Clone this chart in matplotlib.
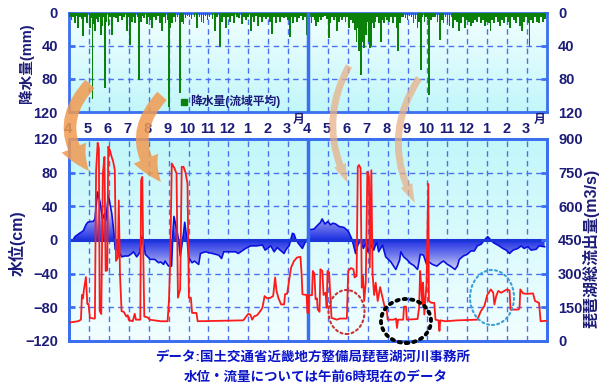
import numpy as np
import matplotlib
matplotlib.use('Agg')
import matplotlib.pyplot as plt
import matplotlib.patches as mpatches
import matplotlib.transforms as mtransforms
from matplotlib.colors import LinearSegmentedColormap

plt.rcParams['font.family'] = ['Liberation Sans', 'Noto Sans CJK JP']
plt.rcParams['font.weight'] = 'bold'

# x axis unit: months counted from April 1 of the first year (0..24)
MONTH_LABELS = ['4', '5', '6', '7', '8', '9', '10', '11', '12', '1', '2', '3',
                '4', '5', '6', '7', '8', '9', '10', '11', '12', '1', '2', '3']

# daily basin-average rainfall (mm)
rain_month = [0.05, 0.13, 0.22, 0.3, 0.38, 0.47, 0.55, 0.65, 0.72, 0.8, 0.9, 1.06, 1.12, 1.18, 1.24, 1.3,
              1.36, 1.45, 1.52, 1.6, 1.68, 1.75, 1.81, 1.88, 1.98, 2.06, 2.15, 2.25, 2.35, 2.45, 2.55,
              2.65, 2.75, 2.9, 3.0, 3.07, 3.15, 3.25, 3.33, 3.45, 3.53, 3.6, 3.7, 3.78, 3.9, 4.0, 4.08,
              4.17, 4.28, 4.37, 4.45, 4.55, 4.65, 4.75, 4.85, 4.95, 5.04, 5.1, 5.18, 5.26, 5.35, 5.45,
              5.59, 5.66, 5.75, 5.85, 5.95, 6.05, 6.15, 6.3, 6.43, 6.55, 6.65, 6.75, 6.85, 6.95, 7.05,
              7.2, 7.35, 7.45, 7.6, 7.7, 7.8, 7.9, 8.0, 8.1, 8.2, 8.3, 8.42, 8.55, 8.7, 8.8, 8.9, 9.0,
              9.12, 9.22, 9.3, 9.4, 9.5, 9.6, 9.7, 9.8, 9.9, 10.0, 10.1, 10.2, 10.3, 10.4, 10.5, 10.6,
              10.7, 10.8, 10.9, 11.0, 11.08, 11.15, 11.25, 11.35, 11.45, 11.55, 11.65, 11.75, 11.85, 11.92,
              12.02, 12.1, 12.18, 12.26, 12.33, 12.42, 12.5, 12.58, 12.66, 12.75, 12.85, 12.95, 13.05,
              13.12, 13.2, 13.3, 13.38, 13.47, 13.55, 13.65, 13.72, 13.8, 13.88, 13.95, 14.05, 14.15,
              14.25, 14.35, 14.44, 14.5, 14.56, 14.62, 14.68, 14.74, 14.8, 14.86, 14.92, 14.98, 15.05,
              15.11, 15.17, 15.23, 15.3, 15.38, 15.46, 15.55, 15.65, 15.72, 15.8, 15.88, 15.95, 16.05,
              16.15, 16.25, 16.35, 16.45, 16.52, 16.6, 16.7, 16.8, 16.9, 17.0, 17.1, 17.2, 17.3, 17.4,
              17.5, 17.58, 17.67, 17.75, 17.85, 17.92, 18.0, 18.09, 18.18, 18.28, 18.38, 18.5, 18.64,
              18.72, 18.8, 18.9, 19.0, 19.1, 19.2, 19.3, 19.4, 19.5, 19.6, 19.7, 19.8, 19.9, 20.0, 20.1,
              20.2, 20.3, 20.4, 20.5, 20.6, 20.7, 20.8, 20.9, 21.0, 21.1, 21.16, 21.25, 21.35, 21.45,
              21.55, 21.65, 21.75, 21.85, 21.95, 22.05, 22.15, 22.25, 22.35, 22.45, 22.55, 22.65, 22.75,
              22.85, 22.95, 23.05, 23.12, 23.2, 23.3, 23.4, 23.5, 23.6, 23.7, 23.8, 23.9]
rain_mm = [6, 9, 5, 13, 4, 19, 6, 8, 28, 5, 13, 19, 7, 104, 14, 22,
           8, 12, 5, 27, 16, 6, 91, 11, 16, 6, 27, 5, 7, 11, 4,
           9, 6, 22, 5, 39, 11, 6, 13, 5, 81, 11, 4, 7, 14, 5, 9,
           19, 6, 9, 4, 13, 22, 6, 13, 9, 114, 19, 13, 6, 11, 5,
           97, 11, 14, 7, 4, 6, 8, 5, 19, 6, 11, 13, 4, 9, 5,
           8, 22, 6, 42, 11, 5, 19, 6, 11, 4, 13, 5, 7, 14, 5, 9, 6,
           22, 5, 11, 4, 16, 6, 11, 5, 8, 5, 11, 26, 6, 13, 5, 11,
           5, 7, 6, 9, 29, 6, 13, 5, 11, 7, 4, 9, 6, 27,
           31, 6, 13, 5, 9, 16, 11, 5, 9, 6, 4, 8, 31,
           13, 5, 9, 6, 22, 11, 5, 9, 6, 11, 5, 19, 9,
           13, 21, 35, 19, 47, 27, 75, 35, 43, 19, 27, 11, 35,
           43, 41, 13, 19, 11, 6, 13, 35, 9, 13, 5, 9, 11,
           6, 13, 5, 19, 47, 13, 6, 5, 7, 9, 4, 6, 13, 8,
           19, 11, 69, 6, 11, 5, 8, 99, 9, 6, 5, 11, 33,
           9, 13, 6, 13, 16, 6, 19, 9, 11, 22, 13, 6, 19, 9, 11,
           16, 13, 9, 11, 6, 13, 9, 16, 11, 13, 22, 9, 13, 6,
           11, 16, 9, 13, 6, 11, 19, 6, 9, 13, 5, 16, 22,
           11, 6, 13, 41, 9, 13, 6, 11, 13, 6, 11, 8]

# lake water level at 6 a.m. (cm)
level_month = [0.2, 0.3, 0.47, 0.6, 0.72, 0.85, 0.94, 1.1, 1.22, 1.3, 1.43, 1.5, 1.56, 1.68, 1.78, 1.85,
               1.92, 1.98, 2.08, 2.15, 2.25, 2.32, 2.45, 2.65, 2.8, 2.97, 3.1, 3.24, 3.4, 3.55, 3.68,
               3.75, 3.83, 4.08, 4.3, 4.5, 4.6, 4.75, 4.82, 5.0, 5.15, 5.22, 5.27, 5.42, 5.5, 5.59,
               5.65, 5.75, 5.81, 5.93, 6.01, 6.18, 6.3, 6.51, 6.6, 6.85, 7.2, 7.52, 7.66, 7.77, 8.1,
               8.36, 8.5, 8.87, 9.12, 9.4, 9.71, 9.85, 10.13, 10.3, 10.45, 10.6, 10.8, 10.9, 11.05,
               11.22, 11.3, 11.4, 11.55, 11.72, 11.85, 11.97,
               12.02, 12.3, 12.46, 12.63, 12.71, 12.85, 13.0, 13.13, 13.25, 13.39, 13.56, 13.8, 13.95,
               14.05, 14.22, 14.39, 14.5, 14.64, 14.78, 14.9, 15.0, 15.15, 15.3, 15.45, 15.55, 15.74,
               15.9, 16.16, 16.41, 16.6, 16.66, 16.8, 17.0, 17.15, 17.3, 17.5, 17.64, 17.8, 17.97,
               18.0, 18.25, 18.47, 18.67, 18.8, 19.0, 19.15, 19.38, 19.5, 19.6, 19.8, 20.0, 20.18,
               20.35, 20.5, 20.69, 20.86, 21.02, 21.1, 21.3, 21.45, 21.6, 21.78, 21.95, 22.12, 22.3,
               22.54, 22.7, 22.85, 23.04, 23.2, 23.46, 23.6, 23.88]
level_cm = [0, 4, 7, 9, 11, 18, 21, 22, 22, 25, 57, 50, 45, 25, 31, 23,
            40, 53, 40, 31, 10, -11, -12, -20, -19, -19, -17, -14, -20, -15, 5,
            -5, -17, -23, -23, -27, -26, -29, -25, -31, -31, 10, 28, 11, 0, -19,
            -9, 8, 21, 0, -21, -27, -25, -29, -16, -14, -16, -18, -22, -14, -14,
            -14, -16, -10, -7, -7, -6, -12, -7, -14, -9, -12, -16, -11, -7,
            8, 7, 0, -5, -10, -3, -1,
            12, 13, 17, 21, 25, 19, 22, 18, 20, 19, 16, 15, 12,
            9, 0, -16, -6, 0, -10, -4, -14, -6, -12, -2, -14, -6,
            -20, -26, -35, -24, -14, -20, -24, -28, -30, -35, -17, -18, -30,
            -25, -29, -31, -27, -25, -29, -31, -35, -31, -23, -19, -17, -13,
            -13, -7, -5, 0, 4, 2, -3, -5, -7, -10, -12, -16, -12,
            -10, -7, -10, -8, -12, -11, -7, -8]

# total outflow of Lake Biwa (m3/s)
flow_month = [0.0, 0.45, 0.6, 0.65, 0.7, 0.75, 0.85, 0.92, 0.98, 1.05, 1.25, 1.3, 1.36, 1.44, 1.5, 1.54,
              1.62, 1.7, 1.78, 1.84, 1.92, 1.97, 2.05, 2.14, 2.22, 2.3, 2.36, 2.45, 2.5, 2.56, 2.64,
              2.75, 2.88, 2.95, 3.0, 3.2, 3.3, 3.36, 3.58, 3.62, 3.68, 3.72, 3.78, 3.95, 4.05, 4.6,
              4.95, 5.02, 5.08, 5.16, 5.3, 5.4, 5.47, 5.58, 5.66, 5.75, 5.85, 5.95, 6.02, 6.12, 6.18,
              6.4, 6.46, 8.75, 9.0, 9.1, 9.2, 9.3, 9.45, 9.62, 9.71, 9.82, 9.95, 10.1, 10.25, 10.35,
              10.42, 10.52, 10.65, 10.8, 10.85, 10.95, 11.05, 11.15, 11.3, 11.45, 11.62, 11.68, 11.72,
              11.93, 11.97, 12.0,
              12.02, 12.2, 12.24, 12.32, 12.38, 12.45, 12.49, 12.58, 12.62, 12.72, 12.78, 12.88, 12.94,
              12.98, 13.06, 13.12, 13.18, 13.45, 13.6, 13.95, 14.02, 14.15, 14.28, 14.34, 14.44, 14.5,
              14.56, 14.64, 14.7, 14.76, 14.82, 14.9, 14.98, 15.06, 15.1, 15.18, 15.24, 15.32, 15.4,
              15.5, 15.62, 15.78, 15.86, 15.95, 16.0, 16.3, 16.42, 16.47, 16.52, 16.78, 16.82, 16.92,
              16.96, 17.5, 17.58, 17.63, 17.68, 17.74, 17.78, 17.84, 17.95, 18.04, 18.07, 18.2, 18.34,
              18.4, 18.55, 18.6, 18.64, 18.9, 19.5, 20.5, 20.68, 20.85, 21.0, 21.18, 21.3, 21.36,
              21.45, 21.55, 21.7, 21.85, 22.0, 22.12, 22.17, 22.55, 22.62, 22.66, 22.8, 23.0, 23.3,
              23.4, 23.6, 23.68, 23.95]
flow_m3s = [82, 88, 95, 205, 190, 230, 285, 165, 165, 103, 100, 100, 760, 883, 858, 135,
            120, 745, 820, 312, 315, 866, 851, 821, 799, 761, 357, 372, 626, 297, 133,
            130, 109, 115, 94, 88, 121, 95, 95, 716, 731, 434, 109, 105, 95, 88,
            88, 183, 348, 791, 769, 746, 193, 230, 776, 776, 750, 701, 193, 193, 125,
            125, 88, 92, 121, 118, 95, 110, 115, 135, 148, 200, 190, 192, 200, 283,
            223, 190, 163, 163, 209, 210, 267, 327, 357, 372, 375, 297, 208,
            205, 125, 125,
            204, 204, 312, 300, 186, 190, 140, 130, 320, 312, 205, 215, 148,
            312, 305, 205, 103, 95, 100, 100, 312, 325, 320, 283, 290, 776,
            784, 770, 238, 290, 178, 260, 754, 730, 327, 761, 300, 205, 260,
            178, 240, 178, 148, 140, 95, 95, 100, 58, 95, 95, 153, 153,
            95, 98, 150, 312, 250, 163, 260, 118, 253, 700, 178, 170, 170,
            95, 92, 45, 92, 88, 92, 95, 133, 155, 205, 230, 215, 163,
            200, 223, 215, 223, 230, 225, 140, 140, 145, 230, 212, 210, 212,
            178, 170, 88, 90]

NAVY = '#1c1c78'
FRAME = '#3a6ff0'
GRID = '#4a72f0'
W, H = 601, 388


def fx(x):
    return x / W


def fy(y):
    return 1 - y / H


fig = plt.figure(figsize=(W / 100, H / 100), dpi=100)
ax_r = fig.add_axes([fx(69), fy(112), 478 / W, 99.5 / H])
ax_b = fig.add_axes([fx(69), fy(341), 478 / W, 202 / H])
ax_f = ax_b.twinx()

sky = LinearSegmentedColormap.from_list('sky', ['#c2f7fa', '#f2feff'])
for ax, (y0, y1) in ((ax_r, (120, 0)), (ax_b, (-120, 120))):
    ax.imshow(np.linspace(0, 1, 100)[:, None], extent=[0, 24, y0, y1], cmap=sky,
              aspect='auto', zorder=0, origin='upper' if ax is ax_b else 'lower')

# ---- rainfall panel
ax_r.bar(rain_month, rain_mm, width=0.09, color='#0b800b', zorder=3, align='center')
ax_r.set_xlim(0, 24)
ax_r.set_ylim(120, 0)
ax_r.set_yticks([0, 40, 80, 120])
for yv in (40, 80):
    ax_r.axhline(yv, color=GRID, lw=1, ls=(0, (4, 3)), zorder=1)

# ---- level / outflow panel
ax_b.set_xlim(0, 24)
ax_b.set_ylim(-120, 120)
ax_b.set_yticks([-120, -80, -40, 0, 40, 80, 120])
for yv in (-80, -40, 40, 80):
    ax_b.axhline(yv, color=GRID, lw=1, ls=(0, (4, 3)), zorder=1)

for ax in (ax_r, ax_b):
    for m in range(1, 24):
        if m != 12:
            ax.axvline(m, color=GRID, lw=1, ls=(0, (4, 3)), zorder=1)
    ax.axvline(12, color=FRAME, lw=2.5, zorder=6)
    ax.set_xticks([])
    for s in ax.spines.values():
        s.set_color(FRAME)
        s.set_linewidth(2)

poly = ax_b.fill_between(level_month, level_cm, 0, facecolor='none', edgecolor='none')
yy = np.linspace(60, -40, 200)
blues = LinearSegmentedColormap.from_list('lv', ['#1e30e4', '#7880ec', '#e8eafd'])
im = ax_b.imshow(np.clip(np.abs(yy) / 38, 0, 1)[:, None], extent=[0, 24, -40, 60],
                 cmap=blues, vmin=0, vmax=1, aspect='auto', zorder=2)
im.set_clip_path(poly.get_paths()[0], transform=ax_b.transData)
ax_b.plot(level_month, level_cm, color='#0a10e0', lw=1.2, zorder=4)
ax_b.axhline(0, color='#1a35d8', lw=2.2, zorder=4)
ax_b.set_xlim(0, 24)
ax_b.set_ylim(-120, 120)

ax_f.plot(flow_month, flow_m3s, color='#ff1a1a', lw=1.3, zorder=5)
ax_f.set_ylim(0, 900)
ax_f.set_yticks([0, 150, 300, 450, 600, 750, 900])
for s in ax_f.spines.values():
    s.set_color(FRAME)
    s.set_linewidth(2)

tick_kw = dict(direction='in', length=4, width=2, color=FRAME, labelcolor=NAVY, labelsize=10.5)
ax_r.tick_params(axis='y', left=True, right=True, labelleft=True, labelright=True, pad=8, **tick_kw)
ax_b.tick_params(axis='y', pad=8, **tick_kw)
ax_f.tick_params(axis='y', pad=8, **tick_kw)
for lab in ax_r.yaxis.get_ticklabels(which='both') + ax_b.get_yticklabels() + ax_f.get_yticklabels():
    lab.set_fontweight('bold')
for t in ax_r.yaxis.get_major_ticks():
    t.label2.set_fontweight('bold')

# month labels between the panels
lab_tr = mtransforms.blended_transform_factory(ax_b.transData, ax_b.transAxes)
for m, lab in enumerate(MONTH_LABELS):
    ax_b.text(m - 0.05, (341 - 129) / 202, lab, transform=lab_tr, ha='center', va='center',
              fontsize=10.5, color=NAVY, fontweight='bold')
for m in (11.55, 23.65):
    ax_b.text(m, (341 - 120) / 202, '月', transform=lab_tr, ha='center', va='center',
              fontsize=8.5, color=NAVY, fontweight='bold')

# axis titles
fig.text(fx(26), fy(63), '降水量(mm)', rotation=90, ha='center', va='center',
         fontsize=10.5, color=NAVY, fontweight='bold')
fig.text(fx(17), fy(243), '水位(cm)', rotation=90, ha='center', va='center',
         fontsize=11.5, color=NAVY, fontweight='bold')
fig.text(fx(591), fy(248), '琵琶湖総流出量(m3/s)', rotation=90, ha='center', va='center',
         fontsize=11.5, color=NAVY, fontweight='bold')

# legend of the rainfall panel
fig.add_artist(mpatches.Rectangle((fx(181), fy(105)), 6 / W, 6 / H, transform=fig.transFigure,
                                  color='#0b800b', zorder=7))
fig.text(fx(190), fy(101.5), '降水量(流域平均)', ha='left', va='center',
         fontsize=8.5, color=NAVY, fontweight='bold', zorder=7)

# source notes
fig.text(fx(313), fy(357), 'データ:国土交通省近畿地方整備局琵琶湖河川事務所', ha='center', va='center',
         fontsize=9.7, color='#0a14c8', fontweight='bold')
fig.text(fx(316), fy(377), '水位・流量については午前6時現在のデータ', ha='center', va='center',
         fontsize=9.7, color='#0a14c8', fontweight='bold')

# curved arrows: rain events -> outflow peaks
arrows = [((90, 84), (89, 171), 0.45, '#f09a50', 0.85, (20, 19, 9)),
          ((162, 96), (161, 182), 0.45, '#f09a50', 0.85, (20, 19, 9)),
          ((349, 66), (348, 183), 0.27, '#e8b088', 0.75, (14, 9, 5)),
          ((419, 78), (415, 203), 0.30, '#e8b088', 0.75, (14, 9, 5))]
for (a, b, rad, col, alp, (hl, hw, tw)) in arrows:
    fig.add_artist(mpatches.FancyArrowPatch(
        (fx(a[0]), fy(a[1])), (fx(b[0]), fy(b[1])), transform=fig.transFigure,
        connectionstyle=f'arc3,rad={rad}',
        arrowstyle=mpatches.ArrowStyle.Simple(head_length=hl, head_width=hw, tail_width=tw),
        mutation_scale=1, shrinkA=0, shrinkB=0, color=col, alpha=alp, lw=0, zorder=8))

# dotted rings around low-outflow periods
rings = [((346.5, 312), 36, 44, '#c83232', 1.5, (0, (1, 1.5))),
         ((406, 321), 50, 44, '#000000', 2.8, (0, (0.6, 1.3))),
         ((492, 297.5), 44, 55, '#3aa0d8', 1.5, (0, (1, 1.5)))]
for (c, w, h, col, lw, ls) in rings:
    fig.add_artist(mpatches.Ellipse((fx(c[0]), fy(c[1])), w / W, h / H, transform=fig.transFigure,
                                    fill=False, edgecolor=col, lw=lw, ls=ls, zorder=9,
                                    capstyle='round'))

fig.savefig('out.png', dpi=100)
